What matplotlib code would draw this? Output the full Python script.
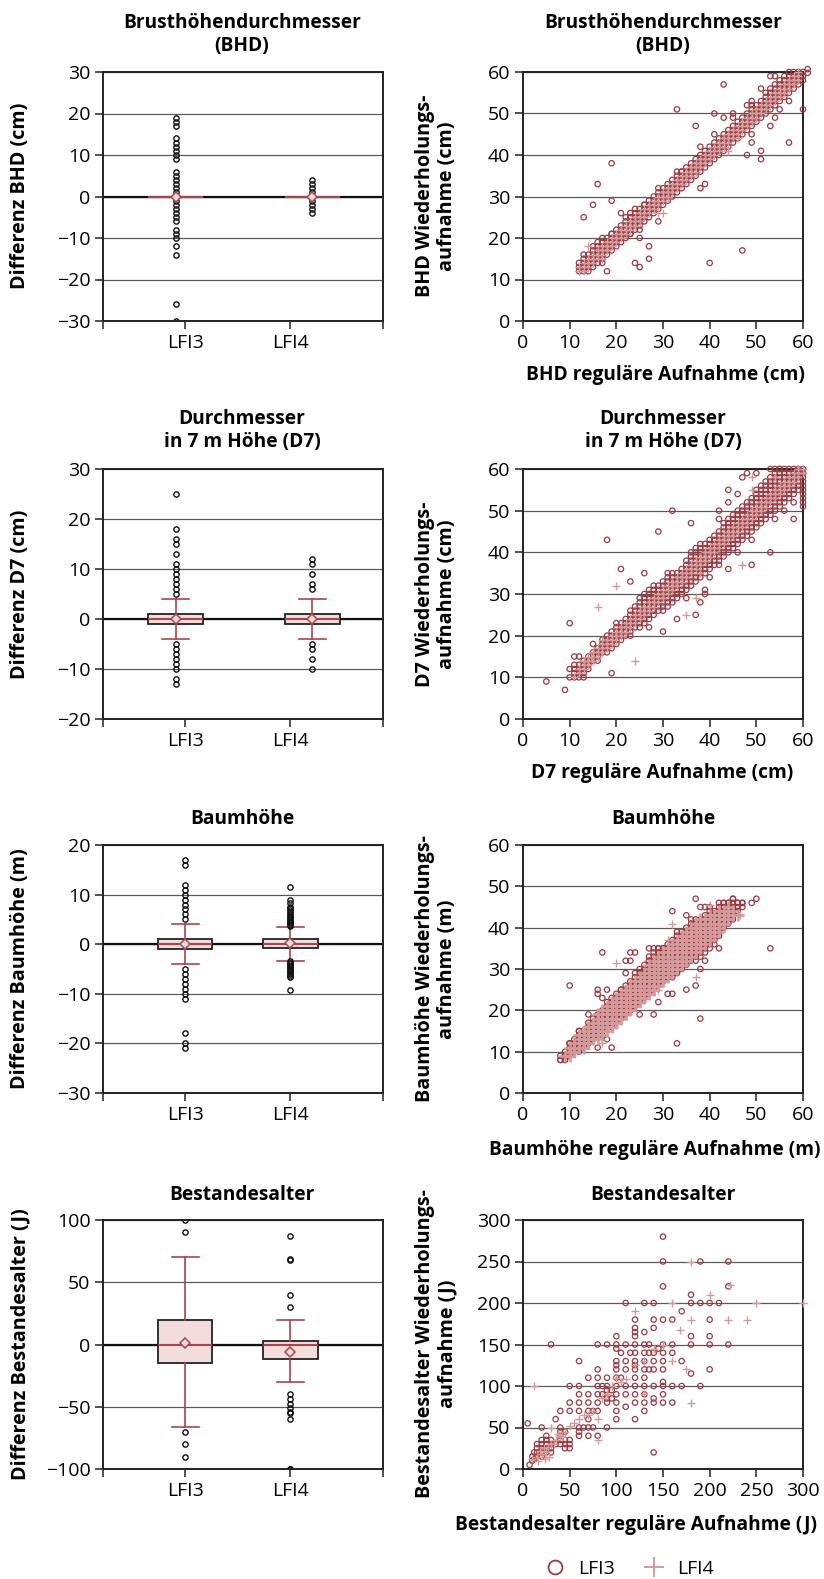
import matplotlib
matplotlib.use("Agg")
import matplotlib.pyplot as plt
from matplotlib.lines import Line2D

plt.rcParams['font.family'] = ['Open Sans', 'DejaVu Sans']

W, H = 824, 1579
RED = '#a8464b'
DARKRED = '#9a3a42'
PINK = '#d39a9b'
BOXFILL = '#f3dcdc'
GRID = '#5a5a5a'
EDGE = '#222222'

groups = ['LFI3', 'LFI4']

# ---------- box plot values (LFI3, LFI4) ----------
bhd_q1 = [0, 0]
bhd_med = [0, 0]
bhd_q3 = [0, 0]
bhd_wlo = [0, 0]
bhd_whi = [0, 0]
bhd_mean = [0, 0]
bhd_fl3 = [19, 18, 17, 14, 13, 12, 11, 10, 9, 6, 5, 4, 3, 2, 1, -1, -2, -3, -4, -5, -6,
           -8, -9, -10, -12, -14, -26, -30]
bhd_fl4 = [4, 3, 2, 1, -1, -2, -3, -4]

d7_q1 = [-1, -1]
d7_med = [0, 0]
d7_q3 = [1, 1]
d7_wlo = [-4, -4]
d7_whi = [4, 4]
d7_mean = [0, 0]
d7_fl3 = [25, 18, 16, 15, 13, 11, 10, 9, 8, 7, 6, 5, -5, -6, -7, -8, -9, -10, -12, -13]
d7_fl4 = [12, 11, 9, 7, 6, -5, -6, -8, -10]

hoehe_q1 = [-1, -0.8]
hoehe_med = [0, 0]
hoehe_q3 = [1, 1]
hoehe_wlo = [-4, -3.3]
hoehe_whi = [4, 3.5]
hoehe_mean = [0, 0.2]
hoehe_fl3 = [17, 16, 12, 11, 10, 9, 8, 7, 6, 5, -5, -6, -7, -8, -9, -10, -11, -18, -20, -21]
hoehe_fl4 = [11.6, 9.0, 8.3, 7.6, 7.2, 6.8, 6.4, 6.0, 5.7, 5.4, 5.1, 4.8, 4.5, 4.2, 3.9, 3.6,
             -3.4, -3.7, -4.0, -4.3, -4.6, -4.9, -5.2, -5.5, -5.8, -6.1, -6.4, -6.7, -9.2]

alter_q1 = [-15, -12]
alter_med = [0, 0]
alter_q3 = [20, 3]
alter_wlo = [-66, -30]
alter_whi = [70, 20]
alter_mean = [1.6, -5.9]
alter_fl3 = [100, 90, -70, -80, -90]
alter_fl4 = [87, 69, 68, 40, 30, -40, -44, -48, -51, -54, -55, -60, -100, -100]

# ---------- scatter values ----------
# dense diagonal bands: (x, lowest y, highest y) of the stacked integer points
bhd_band3 = [(12, 12, 14), (13, 12, 15), (14, 12, 16), (15, 13, 18), (16, 14, 19), (17, 15, 20),
             (18, 16, 20), (19, 17, 21), (20, 18, 22), (21, 19, 23), (22, 20, 25), (23, 21, 26),
             (24, 22, 27), (25, 23, 27), (26, 24, 28), (27, 25, 29), (28, 26, 30), (29, 27, 31),
             (30, 28, 32), (31, 29, 33), (32, 30, 34), (33, 31, 35), (34, 32, 36), (35, 33, 37),
             (36, 34, 38), (37, 35, 39), (38, 36, 40), (39, 37, 41), (40, 38, 42), (41, 39, 43),
             (42, 40, 44), (43, 41, 45), (44, 42, 46), (45, 43, 47), (46, 44, 48), (47, 45, 49),
             (48, 46, 50), (49, 47, 51), (50, 48, 52), (51, 49, 53), (52, 50, 55), (53, 51, 56),
             (54, 52, 57), (55, 53, 58), (56, 54, 59), (57, 55, 60), (58, 56, 60), (59, 57, 60),
             (60, 58, 60)]
bhd_band4 = [(12, 12, 13), (13, 12, 14), (14, 13, 15), (15, 14, 16), (16, 15, 17), (17, 16, 18),
             (18, 17, 19), (19, 18, 20), (20, 19, 21), (21, 20, 22), (22, 21, 23), (23, 22, 24),
             (24, 23, 25), (25, 24, 26), (26, 25, 27), (27, 26, 28), (28, 27, 29), (29, 28, 30),
             (30, 29, 31), (31, 30, 32), (32, 31, 33), (33, 32, 34), (34, 33, 35), (35, 34, 36),
             (36, 35, 37), (37, 36, 38), (38, 37, 39), (39, 38, 40), (40, 39, 41), (41, 40, 42),
             (42, 41, 43), (43, 42, 44), (44, 43, 45), (45, 44, 46), (46, 45, 47), (47, 46, 48),
             (48, 47, 49), (49, 48, 50), (50, 49, 51), (51, 50, 52), (52, 51, 53), (53, 52, 54),
             (54, 53, 55), (55, 54, 56), (56, 55, 57), (57, 56, 58), (58, 57, 59), (59, 58, 60)]
bhd_extra3 = [(13, 25), (15, 28), (16, 33), (19, 38), (19, 29), (21, 26), (18, 12), (24, 14),
              (25, 13), (27, 15), (27, 18), (25, 20), (29, 24), (29, 32), (33, 51), (37, 47),
              (39, 33), (38, 32), (38, 42), (40, 14), (41, 50), (41, 45), (43, 57), (43, 49),
              (45, 50), (45, 49), (47, 17), (48, 40), (49, 45), (49, 43), (51, 41), (51, 39),
              (49, 53), (53, 47), (51, 56), (53, 59), (54, 59), (54, 49), (55, 51), (57, 43),
              (57, 53), (60, 51), (61, 60.7), (61, 59.8), (13, 16), (17, 14), (19, 21), (23, 21),
              (25, 22), (26, 28), (34, 36), (33, 36), (48, 52), (49, 52)]
bhd_extra4 = [(14, 18), (17, 15), (18, 17), (30, 26), (44, 41), (46, 44), (29, 26), (31, 30)]

d7_band3 = [(11, 10, 13), (12, 10, 13), (13, 11, 14), (14, 13, 15), (15, 14, 16), (16, 14, 17),
            (17, 16, 19), (18, 16, 20), (19, 17, 21), (20, 18, 23), (21, 19, 23), (22, 20, 24),
            (23, 21, 26), (24, 22, 27), (25, 23, 29), (26, 23, 30), (27, 24, 31), (28, 25, 32),
            (29, 26, 32), (30, 26, 33), (31, 27, 35), (32, 28, 35), (33, 29, 35), (34, 30, 36),
            (35, 31, 38), (36, 32, 40), (37, 33, 41), (38, 34, 42), (39, 35, 42), (40, 36, 43),
            (41, 37, 44), (42, 38, 45), (43, 39, 47), (44, 40, 48), (45, 41, 49), (46, 42, 50),
            (47, 43, 51), (48, 44, 52), (49, 45, 53), (50, 46, 55), (51, 47, 56), (52, 48, 57),
            (53, 49, 58), (54, 50, 60), (55, 51, 60), (56, 52, 60), (57, 53, 60), (58, 54, 60),
            (59, 55, 60), (60, 51, 60)]
d7_band4 = [(12, 11, 12), (13, 12, 14), (14, 13, 15), (15, 14, 16), (16, 15, 17), (17, 16, 18),
            (18, 17, 19), (19, 18, 20), (20, 19, 21), (21, 20, 22), (22, 21, 23), (23, 22, 24),
            (24, 23, 25), (25, 24, 26), (26, 25, 27), (27, 26, 28), (28, 27, 29), (29, 28, 30),
            (30, 29, 31), (31, 30, 32), (32, 31, 33), (33, 32, 34), (34, 33, 35), (35, 34, 36),
            (36, 35, 37), (37, 36, 38), (38, 37, 39), (39, 38, 40), (40, 39, 41), (41, 40, 42),
            (42, 41, 43), (43, 42, 44), (44, 43, 45), (45, 44, 46), (46, 45, 47), (47, 46, 48),
            (48, 47, 49), (49, 48, 50), (50, 49, 51), (51, 50, 52), (52, 51, 53), (53, 52, 54),
            (54, 53, 55), (55, 54, 56), (56, 55, 57), (57, 56, 58), (58, 57, 59), (59, 58, 60),
            (60, 59, 60)]
d7_extra3 = [(5, 9), (9, 7), (10, 23), (10, 10), (10, 12), (11, 15), (12, 15), (13, 10), (14, 12),
             (15, 18), (19, 11), (18, 43), (21, 36), (23, 33), (26, 35), (29, 45), (30, 21),
             (32, 50), (33, 24), (36, 47), (37, 25), (39, 30), (39, 31), (40, 34), (44, 55),
             (44, 52), (44, 36), (46, 54), (46, 40), (48, 59), (50, 59), (49, 43), (49, 37),
             (53, 40), (54, 48), (58, 48), (56, 50), (47, 58), (42, 37), (38, 28), (35, 29),
             (27, 22), (25, 22), (23, 20), (42, 50), (42, 48), (53, 60), (55, 60), (58, 52)]
d7_extra4 = [(20, 32), (16, 27), (24, 14), (35, 25), (47, 37), (37, 29), (38, 35), (49, 55),
             (49, 58), (54, 58), (17, 19), (13, 14), (11, 10), (14.5, 15)]

hoehe_band3 = [(8, 8, 9), (9, 8, 10), (10, 9, 12), (11, 10, 13), (12, 10, 15), (13, 11, 15),
               (14, 12, 17), (15, 13, 18), (16, 14, 19), (17, 15, 20), (18, 16, 22), (19, 16, 23),
               (20, 17, 24), (21, 18, 25), (22, 19, 26), (23, 20, 27), (24, 21, 29), (25, 22, 30),
               (26, 23, 31), (27, 24, 33), (28, 25, 34), (29, 26, 35), (30, 27, 35), (31, 28, 36),
               (32, 28, 37), (33, 29, 38), (34, 30, 39), (35, 31, 40), (36, 32, 41), (37, 32, 42),
               (38, 33, 42), (39, 34, 43), (40, 35, 44), (41, 36, 44), (42, 38, 45), (43, 40, 46),
               (44, 41, 46), (45, 42, 47), (46, 44, 46), (47, 45, 46)]
hoehe_band4 = [(9, 9, 9), (10, 9, 11), (11, 10, 12), (12, 11, 14), (13, 11, 15), (14, 12, 16),
               (15, 13, 17), (16, 13, 19), (17, 14, 20), (18, 15, 21), (19, 16, 22), (20, 17, 23),
               (21, 18, 24), (22, 19, 25), (23, 20, 26), (24, 21, 27), (25, 22, 28), (26, 23, 29),
               (27, 24, 31), (28, 25, 32), (29, 26, 33), (30, 27, 34), (31, 28, 35), (32, 29, 36),
               (33, 30, 37), (34, 31, 38), (35, 32, 39), (36, 33, 40), (37, 34, 41), (38, 35, 42),
               (39, 36, 42), (40, 37, 43), (41, 38, 43), (42, 39, 44), (43, 41, 44), (44, 42, 45),
               (45, 43, 44), (46, 43, 43)]
hoehe_extra3 = [(10, 26), (17, 34), (16, 25), (16, 24), (18, 25), (17, 23), (16, 11), (19, 11),
                (18, 13), (17, 14), (14, 19), (23, 34), (24, 34), (22, 32), (23, 32), (25, 19),
                (28, 19), (29, 22), (32, 44), (33, 39), (33, 38), (37, 47), (35, 43), (36, 42),
                (38, 45), (39, 45), (40, 45), (42, 46), (43, 46), (44, 46), (45, 47), (46, 46),
                (47, 46), (49, 46), (50, 47), (53, 35), (38, 18), (33, 12), (35, 25), (37, 26),
                (42, 35), (39, 32), (38, 30), (27, 35), (28, 35), (29, 35), (30, 35), (27, 32),
                (31, 24), (32, 24), (9, 8), (8, 8), (10, 12), (12, 15), (22, 29), (21, 25)]
hoehe_extra4 = [(20, 31.5), (32, 41), (37, 28), (46.4, 43), (40, 45.5), (29, 25), (31, 37),
                (17, 12), (11, 10)]

alter_lfi3 = [(150, 280), (150, 250), (190, 250), (220, 250), (150, 220), (220, 220), (180, 210),
              (110, 200), (130, 200), (140, 200), (180, 200), (190, 200), (200, 200), (210, 200),
              (170, 190), (120, 180), (140, 180), (150, 180), (160, 180), (200, 180), (140, 170),
              (120, 170), (130, 165), (120, 165), (100, 160), (120, 160), (180, 160), (200, 160),
              (30, 150), (80, 150), (90, 150), (100, 150), (110, 150), (120, 150), (130, 150),
              (135, 150), (150, 150), (160, 150), (180, 150), (200, 150), (220, 150), (100, 145),
              (145, 145), (105, 140), (115, 140), (120, 140), (130, 140), (135, 140), (140, 140),
              (150, 140), (160, 140), (60, 130), (100, 130), (110, 130), (120, 130), (130, 130),
              (140, 130), (150, 130), (170, 130), (100, 125), (120, 125), (80, 120), (100, 120),
              (110, 120), (120, 120), (130, 120), (135, 120), (140, 120), (150, 120), (200, 120),
              (180, 115), (70, 110), (80, 110), (90, 110), (100, 110), (105, 110), (120, 110),
              (130, 110), (150, 105), (50, 100), (60, 100), (80, 100), (85, 100), (90, 100),
              (100, 100), (110, 100), (120, 100), (130, 100), (140, 100), (150, 100), (160, 100),
              (170, 100), (190, 100), (90, 95), (95, 95), (60, 90), (70, 90), (80, 90), (85, 90),
              (100, 90), (110, 90), (120, 90), (130, 90), (150, 90), (95, 85), (140, 85), (90, 85),
              (50, 80), (60, 80), (70, 80), (80, 80), (90, 80), (100, 80), (140, 80), (150, 80),
              (160, 80), (120, 80), (130, 80), (110, 75), (40, 70), (50, 70), (60, 70), (70, 70),
              (75, 70), (80, 70), (100, 70), (130, 70), (35, 60), (70, 60), (100, 60), (120, 60),
              (5, 55), (20, 50), (40, 50), (60, 50), (65, 50), (70, 50), (75, 50), (90, 50),
              (40, 45), (45, 45), (60, 45), (25, 40), (40, 40), (60, 40), (70, 40), (80, 40),
              (30, 35), (40, 35), (45, 35), (50, 35), (20, 35), (25, 35), (20, 30), (25, 30),
              (30, 30), (35, 30), (40, 30), (45, 30), (50, 30), (15, 30), (15, 25), (25, 25),
              (45, 25), (50, 25), (20, 25), (30, 25), (12, 20), (15, 20), (20, 20), (25, 20),
              (140, 20), (30, 20), (10, 15), (20, 15), (15, 15), (12, 12), (10, 10), (7, 5)]
alter_lfi4 = [(300, 200), (250, 200), (220, 180), (240, 180), (180, 180), (160, 200), (200, 210),
              (222, 222), (180, 250), (160, 130), (175, 120), (180, 80), (120, 190), (130, 90),
              (168, 168), (12, 100), (30, 50), (80, 60), (80, 35), (55, 55), (60, 60), (65, 65),
              (100, 110), (105, 105), (45, 45), (25, 20), (28, 15), (30, 30), (15, 15), (20, 18),
              (35, 35), (40, 40), (18, 22), (22, 25), (27, 27), (33, 30), (50, 52), (75, 70),
              (85, 85), (90, 90), (110, 108), (140, 145), (150, 150), (120, 125), (70, 65),
              (42, 38), (38, 42), (24, 12), (10, 12), (16, 10), (130, 130), (95, 100)]


def rect(l, t, r, b):
    return [l / W, 1 - b / H, (r - l) / W, (b - t) / H]


def fx(px):
    return px / W


def fy(py):
    return 1 - py / H


def style_axes(ax):
    for s in ax.spines.values():
        s.set_linewidth(1.4)
        s.set_color(EDGE)
    ax.tick_params(direction='out', length=6, width=1.1, color=EDGE, labelsize=14, pad=3)
    ax.yaxis.grid(True, color=GRID, lw=0.9)
    ax.set_axisbelow(True)


def box_panel(px, q1, med, q3, wlo, whi, mean, fl3, fl4, positions, ylim, step):
    ax = fig.add_axes(rect(*px))
    style_axes(ax)
    ax.axhline(0, color='#111111', lw=1.6, zorder=1.5)
    stats = []
    for i, fl in enumerate([fl3, fl4]):
        stats.append(dict(q1=q1[i], med=med[i], q3=q3[i], whislo=wlo[i], whishi=whi[i],
                          mean=mean[i], fliers=fl, label=groups[i]))
    ax.bxp(stats, positions=positions, widths=0.52, capwidths=0.255, patch_artist=True,
           showmeans=True, manage_ticks=False,
           boxprops=dict(edgecolor=EDGE, facecolor=BOXFILL, linewidth=1.3),
           whiskerprops=dict(color=RED, lw=1.2), capprops=dict(color=RED, lw=1.2),
           medianprops=dict(color=RED, lw=1.5),
           meanprops=dict(marker='D', markeredgecolor=RED, markerfacecolor=BOXFILL,
                          markersize=5, markeredgewidth=1.1),
           flierprops=dict(marker='o', markerfacecolor='none', markeredgecolor='#111111',
                           markersize=3.8, markeredgewidth=1.0))
    xl, xr = 0.22, 2.88
    ax.set_xlim(xl, xr)
    ax.set_xticks([xl, 1, 2, xr])
    ax.set_xticklabels(['', groups[0], groups[1], ''])
    ax.set_ylim(*ylim)
    ax.set_yticks(list(range(ylim[0], ylim[1] + 1, step)))
    return ax


def expand(band):
    xs, ys = [], []
    for x, lo, hi in band:
        for y in range(lo, hi + 1):
            xs.append(x)
            ys.append(y)
    return xs, ys


def scatter_panel(px, band3, extra3, band4, extra4, lim, step, band_size=38, band_lw=1.0):
    ax = fig.add_axes(rect(*px))
    style_axes(ax)
    x3, y3 = expand(band3)
    x3 += [p[0] for p in extra3]
    y3 += [p[1] for p in extra3]
    ax.scatter(x3, y3, s=15, facecolors='none', edgecolors=DARKRED, linewidths=0.9,
               clip_on=False, zorder=3)
    bx, by = expand(band4)
    if bx:
        ax.scatter(bx, by, s=band_size, marker='+', color=PINK, linewidths=band_lw,
                   clip_on=False, zorder=4)
    ax.scatter([p[0] for p in extra4], [p[1] for p in extra4], s=38, marker='+', color=PINK,
               linewidths=1.0, clip_on=False, zorder=4)
    ax.set_xlim(0, lim)
    ax.set_ylim(0, lim)
    ax.set_xticks(list(range(0, lim + 1, step)))
    ax.set_yticks(list(range(0, lim + 1, step)))
    return ax


fig = plt.figure(figsize=(W / 100, H / 100), dpi=100)

# row 1
box_panel((103, 72, 383, 321), bhd_q1, bhd_med, bhd_q3, bhd_wlo, bhd_whi, bhd_mean,
          bhd_fl3, bhd_fl4, [0.91, 2.21], (-30, 30), 10)
scatter_panel((523, 72, 803, 321), bhd_band3, bhd_extra3, bhd_band4, bhd_extra4, 60, 10)
# row 2
box_panel((103, 469, 383, 719), d7_q1, d7_med, d7_q3, d7_wlo, d7_whi, d7_mean,
          d7_fl3, d7_fl4, [0.91, 2.21], (-20, 30), 10)
scatter_panel((523, 469, 803, 719), d7_band3, d7_extra3, d7_band4, d7_extra4, 60, 10)
# row 3
box_panel((103, 845, 383, 1093), hoehe_q1, hoehe_med, hoehe_q3, hoehe_wlo, hoehe_whi, hoehe_mean,
          hoehe_fl3, hoehe_fl4, [1, 2], (-30, 20), 10)
scatter_panel((523, 845, 803, 1093), hoehe_band3, hoehe_extra3, hoehe_band4, hoehe_extra4, 60, 10,
              band_size=70, band_lw=1.8)
# row 4
box_panel((103, 1220, 383, 1469), alter_q1, alter_med, alter_q3, alter_wlo, alter_whi, alter_mean,
          alter_fl3, alter_fl4, [1, 2], (-100, 100), 50)
scatter_panel((523, 1220, 803, 1469), [], alter_lfi3, [], alter_lfi4, 300, 50)

# titles
titles = ['Brusthöhendurchmesser\n(BHD)', 'Durchmesser\nin 7 m Höhe (D7)', 'Baumhöhe', 'Bestandesalter']
title_y = [35, 431, 819, 1195]
for t, ty in zip(titles, title_y):
    for cx in (242, 663):
        fig.text(fx(cx), fy(ty), t, ha='center', va='center', fontsize=13.8, fontweight='bold',
                 linespacing=1.2)

# y labels
box_ylabels = ['Differenz BHD (cm)', 'Differenz D7 (cm)', 'Differenz Baumhöhe (m)',
               'Differenz Bestandesalter (J)']
sc_ylabels = ['BHD Wiederholungs-\naufnahme (cm)', 'D7 Wiederholungs-\naufnahme (cm)',
              'Baumhöhe Wiederholungs-\naufnahme (m)', 'Bestandesalter Wiederholungs-\naufnahme (J)']
row_mid = [196, 594, 969, 1344]
for bl, sl, my in zip(box_ylabels, sc_ylabels, row_mid):
    fig.text(fx(20), fy(my), bl, rotation=90, ha='center', va='center', fontsize=14.2,
             fontweight='bold')
    fig.text(fx(436), fy(my), sl, rotation=90, ha='center', va='center', fontsize=14.2,
             fontweight='bold', linespacing=1.15, multialignment='center')

# x labels of the scatter plots
sc_xlabels = ['BHD reguläre Aufnahme (cm)', 'D7 reguläre Aufnahme (cm)',
              'Baumhöhe reguläre Aufnahme (m)', 'Bestandesalter reguläre Aufnahme (J)']
xlab_x = [665, 662, 655, 636]
xlab_y = [375, 773, 1150, 1525]
for xl, xx, yy in zip(sc_xlabels, xlab_x, xlab_y):
    fig.text(fx(xx), fy(yy), xl, ha='center', va='center', fontsize=13.8, fontweight='bold')

handles = [Line2D([], [], marker='o', ls='none', mfc='none', mec=DARKRED, ms=10, mew=1.3,
                  label='LFI3'),
           Line2D([], [], marker='+', ls='none', color=PINK, ms=14, mew=1.4, label='LFI4')]
fig.legend(handles=handles, loc='center', bbox_to_anchor=(fx(625), fy(1569)), ncol=2,
           frameon=False, fontsize=14, handletextpad=0.2, columnspacing=1.0)

fig.savefig('out.png', dpi=100)
